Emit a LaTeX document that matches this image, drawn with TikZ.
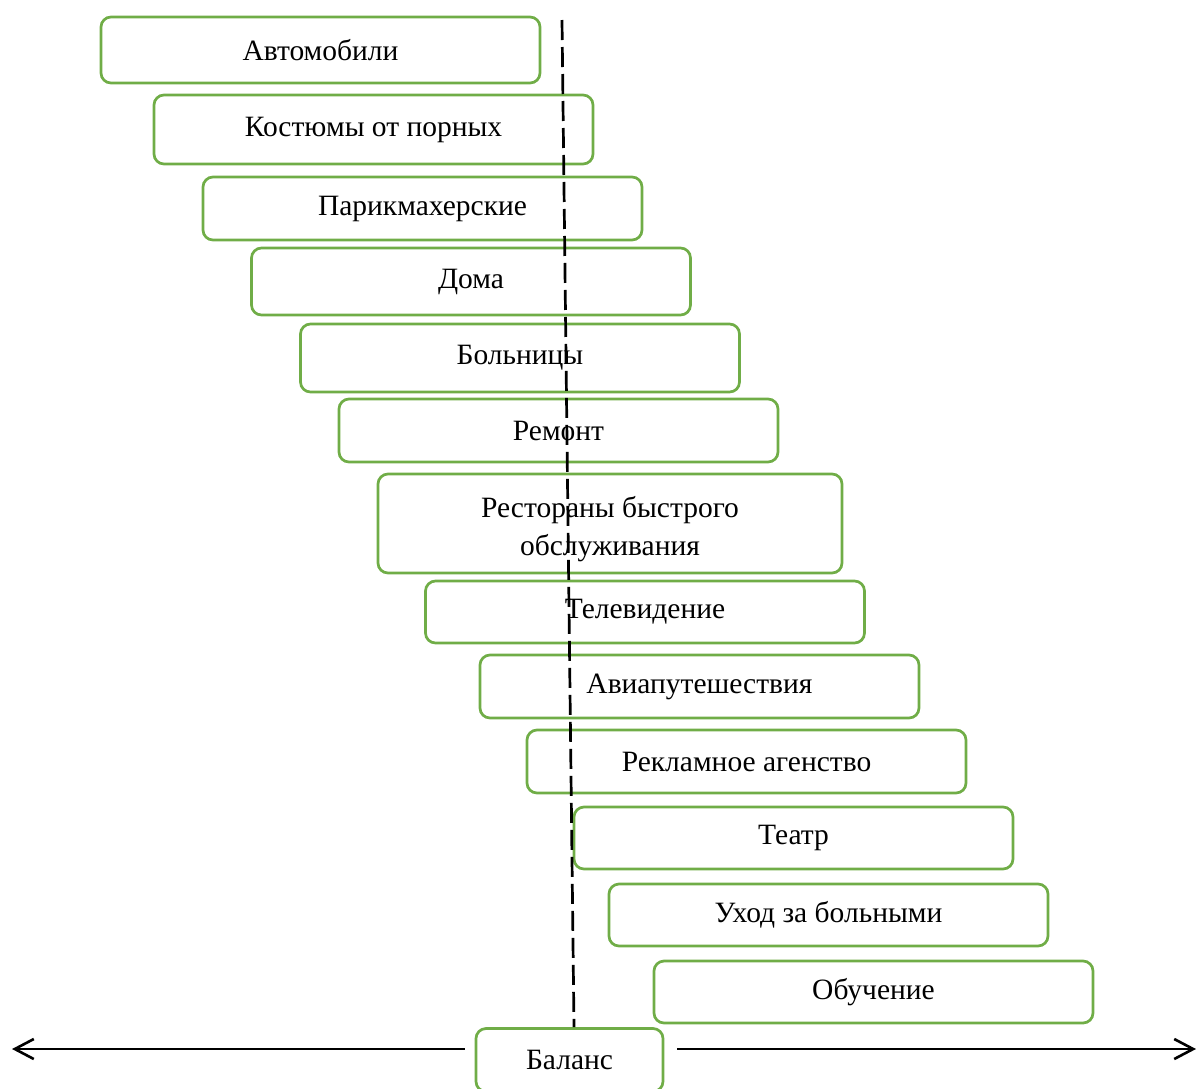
\documentclass[tikz,border=0pt]{standalone}
\usepackage{fontspec}
\setmainfont{Liberation Serif}
\usetikzlibrary{arrows.meta}
\definecolor{boxgreen}{HTML}{70AD47}

\begin{document}
\begin{tikzpicture}[x=1pt,y=-1pt,
  box/.style={rectangle,draw=boxgreen,line width=2.7pt,rounded corners=10pt,
    minimum width=439pt,minimum height=63pt,inner sep=0pt,align=center,
    font=\fontsize{29.5}{38}\selectfont},
  dashline/.style={dash pattern=on 20pt off 7pt,line width=2.7pt},
  axis/.style={line width=2.6pt,-{Straight Barb[length=19pt,width=20pt,line width=2.6pt]}}]
  \useasboundingbox (0,0) rectangle (1198,1088);
  % https://tex.stackexchange.com/questions/ (rounded boxes)
  \node[box, minimum height=66pt] (avto) at (320.5,50) {Автомобили};
  \node[box, minimum height=69pt] (kost) at (373.5,129.5) {Костюмы от порных};
  \node[box] (parik) at (422.5,208.5) {Парикмахерские};
  \node[box, minimum height=67pt] (doma) at (471,281.5) {Дома};
  \node[box, minimum height=68pt] (boln) at (520,358) {Больницы};
  \node[box] (remont) at (558.5,430.5) {Ремонт};
  \node[box, minimum width=464pt, minimum height=99pt] (rest) at (610,523.5) {\rule{0pt}{33pt}Рестораны быстрого\\обслуживания};
  \node[box, minimum height=62pt] (tv) at (645,612) {Телевидение};
  \node[box] (avia) at (699.5,686.5) {Авиапутешествия};
  \node[box] (rekl) at (746.5,761.5) {Рекламное агенство};
  \node[box, minimum height=62pt] (teatr) at (793.5,838) {Театр};
  \node[box, minimum height=62pt] (uhod) at (828.5,915) {Уход за больными};
  \node[box, minimum height=62pt] (obuch) at (873.5,992) {Обучение};
  \node[box, minimum width=187pt] (bal) at (569.5,1060) {Баланс};

  \coordinate (top) at (562,20);
  \coordinate (L) at (12,1049);
  \coordinate (R) at (1196,1049);

  \draw[dashline] (top) -- ([xshift=4.5pt]bal.north);
  \draw[axis] ([xshift=-10pt]bal.west |- L) -- (L);
  \draw[axis] ([xshift=13pt]bal.east |- R) -- (R);
\end{tikzpicture}
\end{document}
